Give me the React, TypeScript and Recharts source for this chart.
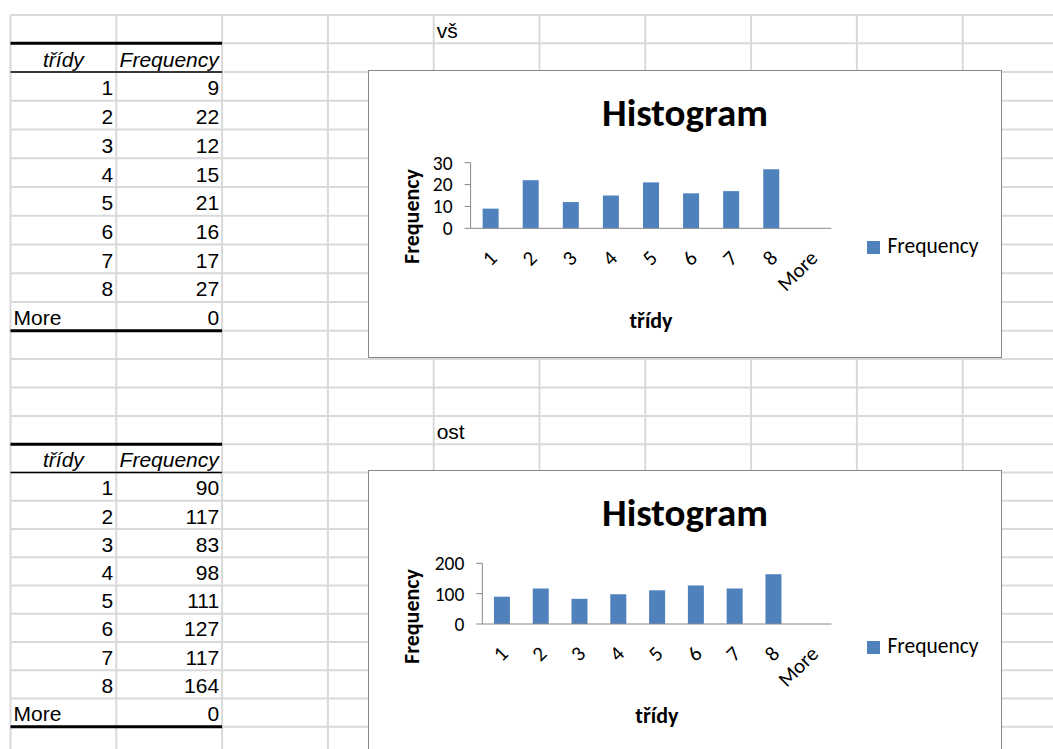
import React from 'react';
import { BarChart, Bar, XAxis, YAxis, Legend } from 'recharts';

// třídy (bins) shared by both histograms
const classes = ['1', '2', '3', '4', '5', '6', '7', '8', 'More'];
// "vš" block
const vsFrequency = [9, 22, 12, 15, 21, 16, 17, 27, 0];
const vsTicks = [0, 10, 20, 30];
// "ost" block
const ostFrequency = [90, 117, 83, 98, 111, 127, 117, 164, 0];
const ostTicks = [0, 100, 200];
// bin edges, Excel puts the x tick marks between the categories
const binEdges = [0, 1, 2, 3, 4, 5, 6, 7, 8, 9];

const BLUE = '#4F81BD';
const AXIS_GRAY = '#868686';
const GRID_GRAY = '#d9d9d9';
const CHART_FONT = 'Carlito, Lato, sans-serif';
const SHEET_FONT = '"Liberation Sans", Arial, sans-serif';

const W = 1053;
const H = 749;

// sheet grid lines
const colLines = Array.from({ length: 10 }, (_, i) => 10.5 + i * 105.8);
const rowLines = [
  15,
  ...Array.from({ length: 11 }, (_, i) => 43.3 + i * 28.74),
  ...Array.from({ length: 4 }, (_, i) => 330.7 + (i + 1) * 28.4),
  ...Array.from({ length: 11 }, (_, i) => 444.3 + (i + 1) * 28.24),
];

type Align = 'left' | 'right' | 'center';

const SheetCell = ({ row, col, text, align = 'right', italic = false }: { row: number; col: number; text: string | number; align?: Align; italic?: boolean }) => (
  <div
    style={{
      position: 'absolute',
      left: colLines[col],
      top: rowLines[row + 1] - 24.5,
      width: colLines[col + 1] - colLines[col],
      height: 24,
      lineHeight: '24px',
      padding: '0 3px',
      boxSizing: 'border-box',
      textAlign: align,
      fontStyle: italic ? 'italic' : 'normal',
      whiteSpace: 'nowrap',
    }}
  >
    {text}
  </div>
);

const FreqTable = ({ startRow, values }: { startRow: number; values: number[] }) => (
  <>
    <SheetCell row={startRow} col={0} text="třídy" align="center" italic />
    <SheetCell row={startRow} col={1} text="Frequency" align="center" italic />
    {classes.map((c, i) => (
      <React.Fragment key={c}>
        <SheetCell row={startRow + 1 + i} col={0} text={c} align={c === 'More' ? 'left' : 'right'} />
        <SheetCell row={startRow + 1 + i} col={1} text={values[i]} />
      </React.Fragment>
    ))}
  </>
);

const tableBorders = (startRow: number) => {
  const x1 = colLines[0];
  const x2 = colLines[2];
  return (
    <g key={startRow} stroke="#000">
      <line x1={x1} x2={x2} y1={rowLines[startRow]} y2={rowLines[startRow]} strokeWidth={3} />
      <line x1={x1} x2={x2} y1={rowLines[startRow + 1]} y2={rowLines[startRow + 1]} strokeWidth={1.5} />
      <line x1={x1} x2={x2} y1={rowLines[startRow + 10]} y2={rowLines[startRow + 10]} strokeWidth={3} />
    </g>
  );
};

const yTitle = (cx: number, cy: number) => () => (
  <text
    x={cx}
    y={cy}
    transform={`rotate(-90, ${cx}, ${cy})`}
    textAnchor="middle"
    dominantBaseline="central"
    fontFamily={CHART_FONT}
    fontSize={22}
    fontWeight={700}
    fill="#000"
  >
    Frequency
  </text>
);

const xTitle = (cy: number) => (props: any) => {
  const vb = props.viewBox || {};
  const cx = (vb.x || 0) + (vb.width || 0) / 2;
  return (
    <text x={cx} y={cy} textAnchor="middle" dominantBaseline="central" fontFamily={CHART_FONT} fontSize={22} fontWeight={700} fill="#000">
      třídy
    </text>
  );
};

const CW = 632;
const CH = 286;
const PLOT_RIGHT = 462.4;

const Histogram = ({ top, values, ticks, axisWidth, plotTop, plotBottom }: { top: number; values: number[]; ticks: number[]; axisWidth: number; plotTop: number; plotBottom: number }) => {
  const data = classes.map((c, i) => ({ tridy: c, Frequency: values[i] }));
  return (
    <div style={{ position: 'absolute', left: 369, top, width: CW, height: CH, background: '#fff', outline: '1.5px solid #888' }}>
      <div
        style={{
          position: 'absolute',
          left: 0,
          top: 21,
          width: CW,
          textAlign: 'center',
          fontFamily: CHART_FONT,
          fontWeight: 700,
          fontSize: 39,
          lineHeight: '42px',
          color: '#000',
        }}
      >
        Histogram
      </div>
      <BarChart
        width={CW}
        height={CH}
        data={data}
        margin={{ top: plotTop, right: CW - PLOT_RIGHT, bottom: CH - plotBottom - 41, left: 0 }}
        barCategoryGap="30%"
      >
        <XAxis
          xAxisId="b_bins"
          dataKey="tridy"
          interval={0}
          height={40}
          axisLine={false}
          tickLine={false}
          tickSize={0}
          tickMargin={19.5}
          angle={-45}
          textAnchor="end"
          tick={{ fill: '#000', fontSize: 21, fontFamily: CHART_FONT, dx: -3 }}
          label={{ content: xTitle(plotBottom + 91.7) }}
        />
        <XAxis
          xAxisId="a_edges"
          type="number"
          domain={[0, 9]}
          ticks={binEdges}
          interval={0}
          allowDataOverflow
          tick={false}
          height={1}
          axisLine={{ stroke: AXIS_GRAY }}
          tickLine={{ stroke: AXIS_GRAY }}
          tickSize={6.5}
        />
        <YAxis
          width={axisWidth}
          domain={[0, ticks[ticks.length - 1]]}
          ticks={ticks}
          interval={0}
          axisLine={{ stroke: AXIS_GRAY }}
          tickLine={{ stroke: AXIS_GRAY }}
          tickSize={6}
          tickMargin={12}
          tick={{ fill: '#000', fontSize: 19.5, fontFamily: CHART_FONT }}
          label={{ content: yTitle(42, 145.5) }}
        />
        <Legend
          layout="vertical"
          align="center"
          verticalAlign="middle"
          iconType="square"
          iconSize={13}
          wrapperStyle={{ left: 498.4, top: 163, width: 'auto', lineHeight: '24px', fontFamily: CHART_FONT, fontSize: 21.5 }}
          formatter={(v: string) => <span style={{ color: '#000', marginLeft: 3 }}>{v}</span>}
        />
        <Bar xAxisId="b_bins" dataKey="Frequency" name="Frequency" fill={BLUE} isAnimationActive={false} />
      </BarChart>
    </div>
  );
};

export default function App() {
  return (
    <div style={{ position: 'absolute', left: 0, top: 0, width: W, height: H, overflow: 'hidden', background: '#fff', fontFamily: SHEET_FONT, fontSize: 21, color: '#000' }}>
      <svg width={W} height={H} style={{ position: 'absolute', left: 0, top: 0 }}>
        {colLines.map((x) => (
          <line key={'c' + x} x1={x} x2={x} y1={15} y2={H} stroke={GRID_GRAY} strokeWidth={2} />
        ))}
        {rowLines.map((y) => (
          <line key={'r' + y} x1={colLines[0]} x2={W} y1={y} y2={y} stroke={GRID_GRAY} strokeWidth={2} />
        ))}
        {tableBorders(1)}
        {tableBorders(15)}
      </svg>

      <SheetCell row={0} col={4} text="vš" align="left" />
      <FreqTable startRow={1} values={vsFrequency} />

      <SheetCell row={14} col={4} text="ost" align="left" />
      <FreqTable startRow={15} values={ostFrequency} />

      <Histogram top={71} values={vsFrequency} ticks={vsTicks} axisWidth={101.6} plotTop={91.7} plotBottom={157.3} />
      <Histogram top={471} values={ostFrequency} ticks={ostTicks} axisWidth={113.3} plotTop={92.3} plotBottom={153} />
    </div>
  );
}
